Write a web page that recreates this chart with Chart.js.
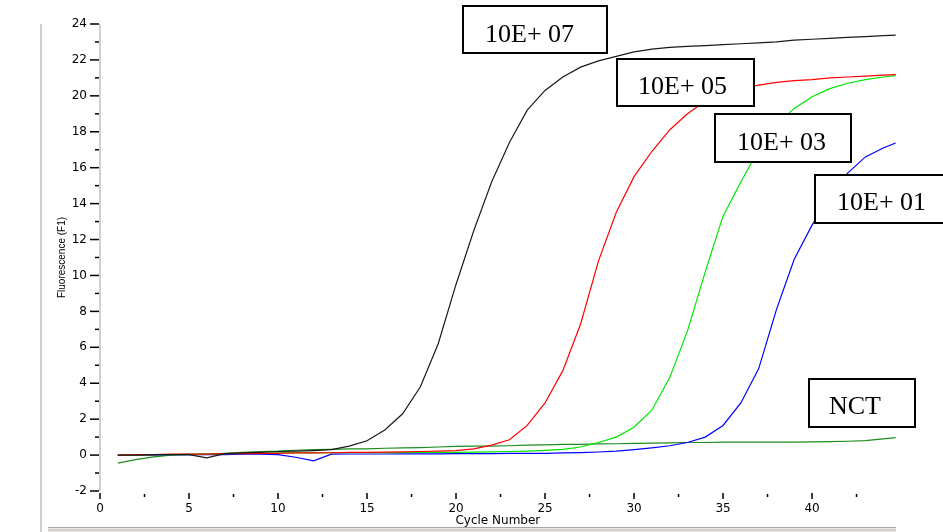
<!DOCTYPE html>
<html>
<head>
<meta charset="utf-8">
<script src="https://cdn.jsdelivr.net/npm/chart.js@4/dist/chart.umd.min.js"></script>
<style>
  html, body { margin: 0; padding: 0; background: #ffffff; }
  #wrap { width: 943px; height: 532px; }
</style>
</head>
<body>
<div id="wrap"><canvas id="c" width="943" height="532"></canvas></div>
<script>
// ---- data ----
const cycles = [1,2,3,4,5,6,7,8,9,10,11,12,13,14,15,16,17,18,19,20,21,22,23,24,25,26,27,28,29,30,31,32,33,34,35,36,37,38,39,40,41,42,43,44,45];

const series1e7 = [0.00,0.00,0.02,0.03,0.02,-0.15,0.08,0.12,0.15,0.20,0.22,0.25,0.30,0.50,0.80,1.40,2.30,3.80,6.20,9.50,12.50,15.20,17.40,19.20,20.30,21.05,21.60,21.95,22.20,22.45,22.60,22.70,22.75,22.80,22.85,22.90,22.95,23.00,23.10,23.15,23.20,23.25,23.30,23.35,23.40];
const series1e5 = [0.00,0.02,0.03,0.05,0.05,0.05,0.08,0.08,0.10,0.10,0.12,0.12,0.13,0.15,0.15,0.16,0.18,0.20,0.22,0.25,0.35,0.55,0.85,1.65,2.90,4.70,7.30,10.80,13.50,15.50,16.90,18.10,19.00,19.70,20.10,20.40,20.60,20.75,20.85,20.90,21.00,21.05,21.10,21.15,21.20];
const series1e3 = [0.00,0.00,0.02,0.03,0.05,0.05,0.08,0.10,0.10,0.12,0.12,0.12,0.13,0.13,0.13,0.14,0.14,0.15,0.15,0.15,0.16,0.18,0.20,0.22,0.26,0.32,0.45,0.70,1.00,1.55,2.50,4.30,6.90,10.20,13.30,15.20,17.00,18.40,19.30,19.95,20.40,20.70,20.90,21.05,21.15];
const series1e1 = [0.00,0.00,0.00,0.02,0.02,0.03,0.03,0.05,0.05,0.03,-0.12,-0.32,0.05,0.06,0.06,0.06,0.07,0.07,0.07,0.08,0.08,0.08,0.09,0.10,0.10,0.12,0.14,0.17,0.22,0.30,0.40,0.52,0.70,1.00,1.65,2.90,4.80,8.10,10.90,12.80,14.40,15.70,16.60,17.10,17.50];
const seriesNCT = [-0.45,-0.25,-0.10,0.00,0.02,0.05,0.10,0.15,0.20,0.22,0.27,0.30,0.32,0.35,0.35,0.38,0.40,0.42,0.45,0.48,0.50,0.50,0.52,0.55,0.57,0.60,0.60,0.62,0.63,0.65,0.67,0.68,0.70,0.70,0.72,0.72,0.72,0.72,0.72,0.73,0.75,0.77,0.80,0.90,1.00];

const seriesNames = ['10E+ 07','10E+ 05','10E+ 03','10E+ 01','NCT'];
const xTickLabels = [0,5,10,15,20,25,30,35,40];
const xMinorTicks = [2.5,7.5,12.5,17.5,22.5,27.5,32.5,37.5,42.5];
const yTickLabels = [-2,0,2,4,6,8,10,12,14,16,18,20,22,24];
const yMinorTicks = [-1,1,3,5,7,9,11,13,15,17,19,21,23];

// ---- styling / layout (kept separate from data) ----
const lineColors = ['#1a1a1a','#ff0000','#00e600','#0000ff','#1e8c1e'];
const boxLayout = [
  {x: 463, y: 6,   w: 144, h: 47, tx: 485, ty: 41.5},
  {x: 617, y: 59,  w: 137, h: 47, tx: 638, ty: 93.5},
  {x: 715, y: 114, w: 136, h: 48, tx: 737, ty: 150},
  {x: 815, y: 175, w: 140, h: 48, tx: 837, ty: 210},
  {x: 809, y: 379, w: 106, h: 48, tx: 829, ty: 414}
];

function toXY(vals) { return cycles.map((c, i) => ({x: c, y: vals[i]})); }
const allSeries = [series1e7, series1e5, series1e3, series1e1, seriesNCT];

const decorPlugin = {
  id: 'decor',
  beforeDraw(chart) {
    const ctx = chart.ctx;
    ctx.save();
    ctx.fillStyle = '#ffffff';
    ctx.fillRect(0, 0, chart.width, chart.height);
    ctx.restore();
  },
  afterDraw(chart) {
    const ctx = chart.ctx;
    const xs = chart.scales.x, ys = chart.scales.y;
    const ca = chart.chartArea;
    ctx.save();
    // window frame lines
    ctx.strokeStyle = '#d4d0c8';
    ctx.lineWidth = 2;
    ctx.beginPath(); ctx.moveTo(41, 24); ctx.lineTo(41, 532); ctx.stroke();
    ctx.strokeStyle = '#a8a59e';
    ctx.lineWidth = 1;
    ctx.beginPath(); ctx.moveTo(48, 527.5); ctx.lineTo(896, 527.5); ctx.stroke();
    ctx.strokeStyle = '#d4d0c8';
    ctx.lineWidth = 3;
    ctx.beginPath(); ctx.moveTo(48, 530); ctx.lineTo(896, 530); ctx.stroke();
    // y axis line
    ctx.strokeStyle = '#d4d0c8';
    ctx.lineWidth = 2;
    ctx.beginPath(); ctx.moveTo(ca.left, ys.getPixelForValue(24)); ctx.lineTo(ca.left, ys.getPixelForValue(-2)); ctx.stroke();
    // y ticks
    ctx.strokeStyle = '#000';
    ctx.lineWidth = 1.5;
    yTickLabels.forEach(v => {
      const p = ys.getPixelForValue(v);
      ctx.beginPath(); ctx.moveTo(ca.left - 10, p); ctx.lineTo(ca.left - 1, p); ctx.stroke();
    });
    yMinorTicks.forEach(v => {
      const p = ys.getPixelForValue(v);
      ctx.beginPath(); ctx.moveTo(ca.left - 5, p); ctx.lineTo(ca.left - 1, p); ctx.stroke();
    });
    // x ticks
    xTickLabels.forEach(v => {
      const p = xs.getPixelForValue(v);
      ctx.beginPath(); ctx.moveTo(p, ca.bottom + 2); ctx.lineTo(p, ca.bottom + 8); ctx.stroke();
    });
    xMinorTicks.forEach(v => {
      const p = xs.getPixelForValue(v);
      ctx.beginPath(); ctx.moveTo(p, ca.bottom + 3); ctx.lineTo(p, ca.bottom + 6); ctx.stroke();
    });
    // label boxes
    ctx.font = '26px "Liberation Serif", "Times New Roman", serif';
    ctx.textAlign = 'left';
    ctx.textBaseline = 'alphabetic';
    seriesNames.forEach((name, i) => {
      const b = boxLayout[i];
      ctx.fillStyle = '#ffffff';
      ctx.fillRect(b.x, b.y, b.w, b.h);
      ctx.strokeStyle = '#000';
      ctx.lineWidth = 2;
      ctx.strokeRect(b.x, b.y, b.w, b.h);
      ctx.fillStyle = '#000';
      ctx.fillText(name, b.tx, b.ty);
    });
    ctx.restore();
  }
};

new Chart(document.getElementById('c'), {
  type: 'line',
  data: {
    datasets: allSeries.map((vals, i) => ({
      label: seriesNames[i],
      data: toXY(vals),
      borderColor: lineColors[i],
      backgroundColor: lineColors[i],
      borderWidth: 1.2,
      pointRadius: 0,
      tension: 0,
      fill: false
    }))
  },
  options: {
    responsive: false,
    animation: false,
    layout: {padding: {top: 24, right: 47.3, bottom: 0, left: 0}},
    plugins: {legend: {display: false}, tooltip: {enabled: false}},
    scales: {
      x: {
        type: 'linear', min: 0, max: 44.7,
        afterBuildTicks: s => { s.ticks = xTickLabels.map(v => ({value: v})); },
        afterFit: s => { s.height = 41; },
        grid: {display: false, drawTicks: false},
        border: {display: false},
        ticks: {padding: 11, color: '#000', autoSkip: false, maxRotation: 0,
                font: {family: 'DejaVu Sans', size: 12}},
        title: {display: true, text: 'Cycle Number', color: '#000',
                font: {family: 'DejaVu Sans', size: 12}, padding: {top: 0, bottom: 4}}
      },
      y: {
        type: 'linear', min: -2, max: 24,
        afterBuildTicks: s => { s.ticks = yTickLabels.map(v => ({value: v})); },
        afterFit: s => { s.width = 100; },
        grid: {display: false, drawTicks: false},
        border: {display: false},
        ticks: {padding: 13, color: '#000', autoSkip: false,
                font: {family: 'DejaVu Sans', size: 12}},
        title: {display: true, text: 'Fluorescence (F1)', color: '#000',
                font: {family: 'Liberation Sans', size: 10}, padding: {top: 56, bottom: 0}}
      }
    }
  },
  plugins: [decorPlugin]
});
</script>
</body>
</html>
